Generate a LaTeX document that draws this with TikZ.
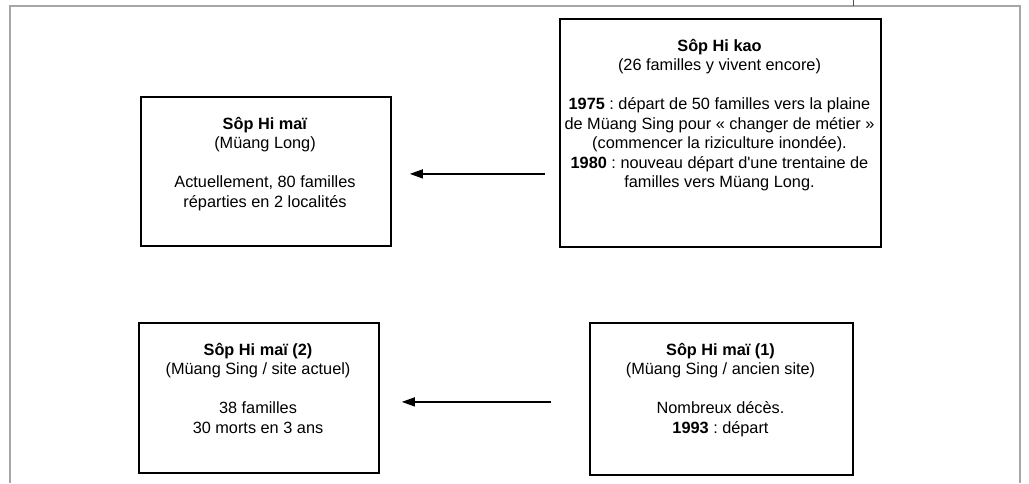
\documentclass[tikz,border=0pt]{standalone}
\usepackage{fontspec}
\setmainfont{Liberation Sans}[Ligatures=TeXOff]
\usetikzlibrary{arrows.meta}
\frenchspacing
\begin{document}
\begin{tikzpicture}[x=1pt,y=-1pt,
  frame/.style={draw=black!35, line width=2pt},
  box/.style={draw=black, line width=1.8pt, rectangle, inner sep=0pt, anchor=north west},
  txt/.style={align=center, anchor=north, inner sep=0pt, font=\fontsize{16.3}{19.5}\selectfont},
  arr/.style={line width=1.3pt, -{Triangle[length=13pt,width=9pt]}}]
\useasboundingbox (0,0) rectangle (1029,483);
\draw[frame] (10,483) -- (10,6) -- (1020,6) -- (1020,483);
\draw[line width=1pt, black!70] (853,0) -- (853,6);
% boxes
\node[box, minimum width=250pt, minimum height=149pt] (mai) at (140,96) {};
\node[box, minimum width=321pt, minimum height=228pt] (kao) at (559,18) {};
\node[box, minimum width=240pt, minimum height=150pt] (sing2) at (138,322) {};
\node[box, minimum width=263pt, minimum height=152pt] (sing1) at (589,322) {};
% texts
\node[txt] (maiT) at (265,117) {\textbf{Sôp Hi maï}\\(Müang Long)\\[19.5pt]Actuellement, 80 familles\\réparties en 2 localités};
\node[txt] (kaoT) at (719.5,39) {\textbf{Sôp Hi kao}\\(26 familles y vivent encore)\\[19.5pt]\textbf{1975} : départ de 50 familles vers la plaine\\de Müang Sing pour « changer de métier »\\(commencer la riziculture inondée).\\\textbf{1980} : nouveau départ d'une trentaine de\\familles vers Müang Long.};
\node[txt] (sing2T) at (258,343) {\textbf{Sôp Hi maï (2)}\\(Müang Sing / site actuel)\\[19.5pt]38 familles\\30 morts en 3 ans};
\node[txt] (sing1T) at (720.5,343) {\textbf{Sôp Hi maï (1)}\\(Müang Sing / ancien site)\\[19.5pt]Nombreux décès.\\\textbf{1993} : départ};
% arrows
\draw[arr, shorten <=14pt, shorten >=18pt] ([yshift=-2.5pt]mai.east -| kao.west) -- ([yshift=-2.5pt]mai.east);
\draw[arr, shorten <=38pt, shorten >=22pt] ([yshift=-3pt]sing1.west) -- ([yshift=-3pt]sing1.west -| sing2.east);
\end{tikzpicture}
\end{document}
